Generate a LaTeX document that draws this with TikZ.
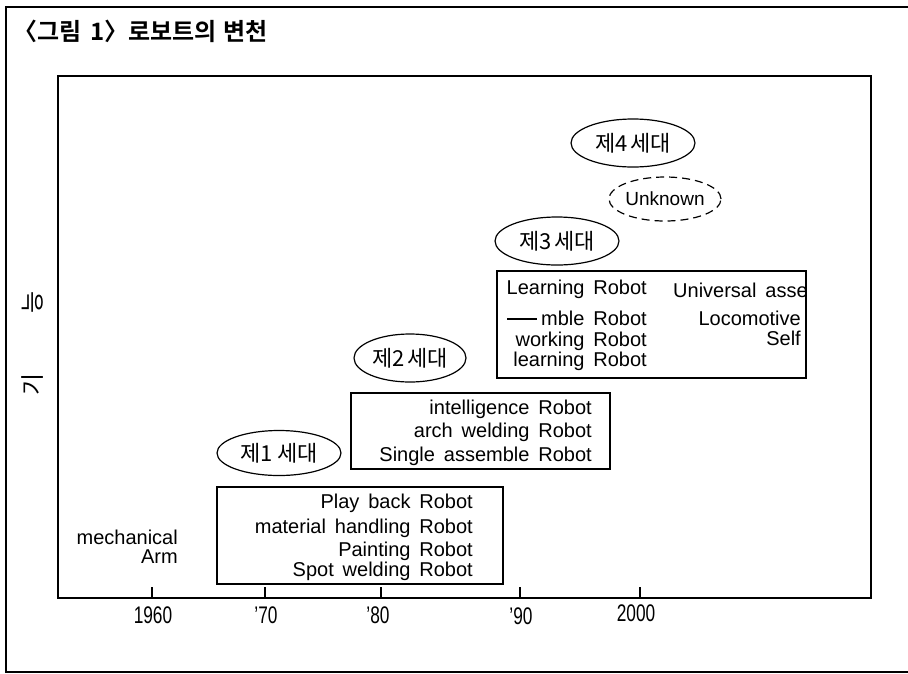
\documentclass[tikz,border=0pt]{standalone}
\usepackage{fontspec}
\usetikzlibrary{shapes.geometric}
\setmainfont{Liberation Sans}[WordSpace=1.6]
\newfontfamily\yrfont{Liberation Sans}[FakeStretch=0.72]
\newfontfamily\kr{Noto Sans CJK KR}
\newfontfamily\krb{Noto Sans CJK KR Bold}
\begin{document}
\begin{tikzpicture}[x=1pt,y=-1pt,
  frame/.style={draw, line width=1.3pt},
  gen/.style={draw, ellipse, line width=1.2pt, minimum width=#1, minimum height=48pt, inner sep=0pt, font=\kr\fontsize{22}{22}\selectfont},
  gen/.default=124pt,
  itembox/.style={draw, line width=1.2pt, inner sep=0pt},
  lab/.style={inner sep=0pt, font=\fontsize{20}{20}\selectfont},
  yr/.style={inner sep=0pt, font=\yrfont\fontsize{24}{24}\selectfont},
  tick/.style={line width=1.1pt}]
\useasboundingbox (0,0) rectangle (908,673);
\fill[white] (0,0) rectangle (908,673);
% outer frame
\draw[line width=1.2pt] (908,7) -- (6,7) -- (6,672) -- (908,672);
% title
\node[anchor=west, inner sep=0pt, font=\krb\fontsize{24}{24}\selectfont] (title) at (13,31) {〈그림\hspace{9pt}1〉로보트의\hspace{7pt}변천};
% plot frame
\coordinate (tl) at (58,76);
\coordinate (br) at (871,598);
\draw[frame] (tl) rectangle (br);
% y label
\node[rotate=90, inner sep=0pt, font=\kr\fontsize{24}{24}\selectfont] (ylab) at (33,343) {기\hspace{60pt}능};
% ticks
\foreach \x/\n in {152/a,265/b,381/c,520/d,640/e}{
  \coordinate (t\n) at (\x,598);
  \draw[tick] (t\n) -- ++(0,-11);
}
% years
\node[yr] (y1) at (153,615) {1960};
\node[yr] (y2) at (266,615) {’70};
\node[yr] (y3) at (378,615) {’80};
\node[yr] (y4) at (521,616) {’90};
\node[yr] (y5) at (636,613) {2000};
% generation ellipses
\node[gen=124pt] (g4) at (633,143) {제4\hspace{3pt}세대};
\node[draw, ellipse, dash pattern=on 8pt off 5pt, line width=1.2pt, minimum width=110pt, minimum height=44pt, inner sep=0pt] (unk) at (665,199) {\fontsize{19}{19}\selectfont Unknown};
\node[gen=124pt] (g3) at (557,241) {제3\hspace{3pt}세대};
\node[gen=112pt] (g2) at (410,358) {제2\hspace{3pt}세대};
\node[gen=124pt, minimum height=45pt] (g1) at (279,453) {제1\hspace{5pt}세대};
% boxes
\node[itembox, minimum width=309pt, minimum height=107pt] (b3) at (651.5,324.5) {};
\node[itembox, minimum width=259pt, minimum height=76pt] (b2) at (480.5,431) {};
\node[itembox, minimum width=286pt, minimum height=97pt] (b1) at (360,535.5) {};
% box 1 text
\node[lab, anchor=east] (p1) at (473,503) {Play back Robot};
\node[lab, anchor=east] (p2) at (473,528) {material handling Robot};
\node[lab, anchor=east] (p3) at (473,551) {Painting Robot};
\node[lab, anchor=east] (p4) at (473,571) {Spot welding Robot};
% box 2 text
\node[lab, anchor=east] (q1) at (592,409) {intelligence Robot};
\node[lab, anchor=east] (q2) at (592,432) {arch welding Robot};
\node[lab, anchor=east] (q3) at (592,456) {Single assemble Robot};
% box 3 text
\node[lab, anchor=east] (r1) at (647,289) {Learning Robot};
\node[lab, anchor=east] (r2) at (647,318) {\rule[5.5pt]{30pt}{1.3pt}\hspace{4pt}mble Robot};
\node[lab, anchor=east] (r3) at (647,341) {working Robot};
\node[lab, anchor=east] (r4) at (647,361) {learning Robot};
\begin{scope}
\clip (497,271) rectangle (806,378);
\node[lab, anchor=west] (s1) at (673,290) {Universal assem};
\end{scope}
\node[lab, anchor=east] (s2) at (801,318) {Locomotive};
\node[lab, anchor=east] (s3) at (801,338) {Self};
% mechanical arm
\node[lab, anchor=east] (m1) at (178,537) {mechanical};
\node[lab, anchor=east] (m2) at (178,557) {Arm};
\end{tikzpicture}
\end{document}
